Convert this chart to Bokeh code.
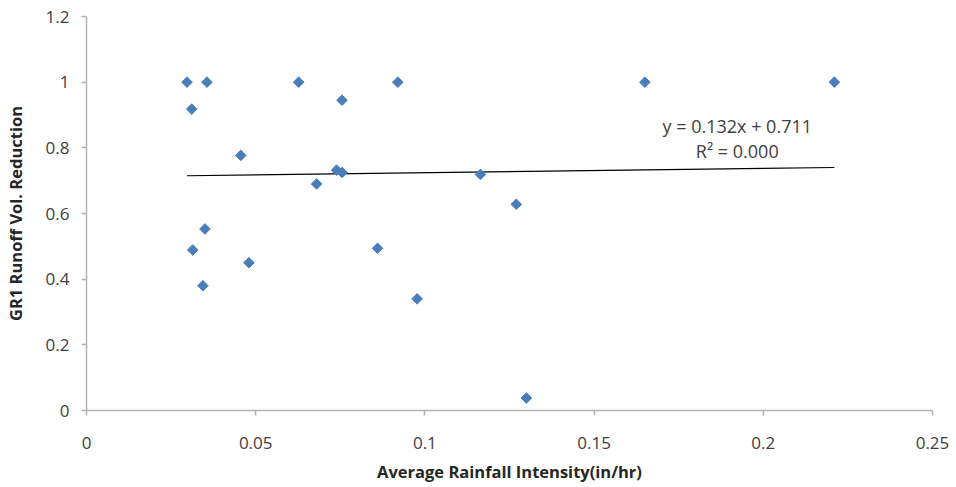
import math
from bokeh.plotting import figure
from bokeh.models import Range1d, Label, FixedTicker
from bokeh.embed import file_html
from bokeh.resources import INLINE

# data
intensity = [0.0297, 0.0311, 0.0356, 0.0627, 0.0920, 0.1650, 0.2210, 0.0755, 0.0456,
             0.0739, 0.0755, 0.0680, 0.1164, 0.1270, 0.0350, 0.0314, 0.0860, 0.0480,
             0.0344, 0.0977, 0.1300]
reduction = [1.0, 0.918, 1.0, 1.0, 1.0, 1.0, 1.0, 0.945, 0.777,
             0.732, 0.725, 0.690, 0.719, 0.628, 0.553, 0.489, 0.494, 0.450,
             0.380, 0.340, 0.038]
trend_slope = 0.132
trend_intercept = 0.711
x_ticks = [0, 0.05, 0.1, 0.15, 0.2, 0.25]
x_tick_labels = ["0", "0.05", "0.1", "0.15", "0.2", "0.25"]
y_ticks = [0, 0.2, 0.4, 0.6, 0.8, 1.0, 1.2]
y_tick_labels = ["0", "0.2", "0.4", "0.6", "0.8", "1", "1.2"]
eq_text = "y = 0.132x + 0.711"
r2_text = "R\u00b2 = 0.000"

FONT = "Open Sans"
AX = "#b3b3b3"
TXT = "#404040"

p = figure(width=956, height=487, output_backend="svg", toolbar_location=None,
           x_range=Range1d(0, 0.25), y_range=Range1d(0, 1.2),
           min_border_left=86, min_border_right=24, min_border_top=16, min_border_bottom=77)
p.outline_line_color = None
p.xgrid.grid_line_color = None
p.ygrid.grid_line_color = None

for ax, ticks, labels in ((p.xaxis[0], x_ticks, x_tick_labels), (p.yaxis[0], y_ticks, y_tick_labels)):
    ax.ticker = FixedTicker(ticks=ticks)
    ax.major_label_overrides = {t: l for t, l in zip(ticks, labels)}
    ax.axis_line_color = AX
    ax.axis_line_width = 1.5
    ax.major_tick_line_color = AX
    ax.major_tick_line_width = 1.5
    ax.major_tick_in = 0
    ax.major_tick_out = 5
    ax.minor_tick_line_color = None
    ax.major_label_text_font = FONT
    ax.major_label_text_font_size = "17px"
    ax.major_label_text_color = TXT
    ax.axis_label_text_font = FONT
    ax.axis_label_text_font_size = "16.5px"
    ax.axis_label_text_font_style = "bold"
    ax.axis_label_text_color = "#262626"

p.xaxis.axis_label = "Average Rainfall Intensity(in/hr)"
p.yaxis.axis_label = "GR1 Runoff Vol. Reduction"
p.xaxis.major_label_standoff = 21
p.xaxis.axis_label_standoff = 8
p.yaxis.major_label_standoff = 12
p.yaxis.axis_label_standoff = 16

x0, x1 = min(intensity), max(intensity)
p.line([x0, x1], [trend_slope * x0 + trend_intercept, trend_slope * x1 + trend_intercept],
       line_color="black", line_width=1.2)

p.scatter(intensity, reduction, marker="square", angle=math.pi / 4, size=7.5,
          fill_color="#4a7ebb", line_color="#4a7ebb")

p.add_layout(Label(x=0.1923, y=0.866, text=eq_text, text_align="center", text_baseline="middle",
                   text_font=FONT, text_font_size="18px", text_color=TXT))
p.add_layout(Label(x=0.1923, y=0.789, text=r2_text, text_align="center", text_baseline="middle",
                   text_font=FONT, text_font_size="18px", text_color=TXT))

open("out.html", "w").write(file_html(p, INLINE))
